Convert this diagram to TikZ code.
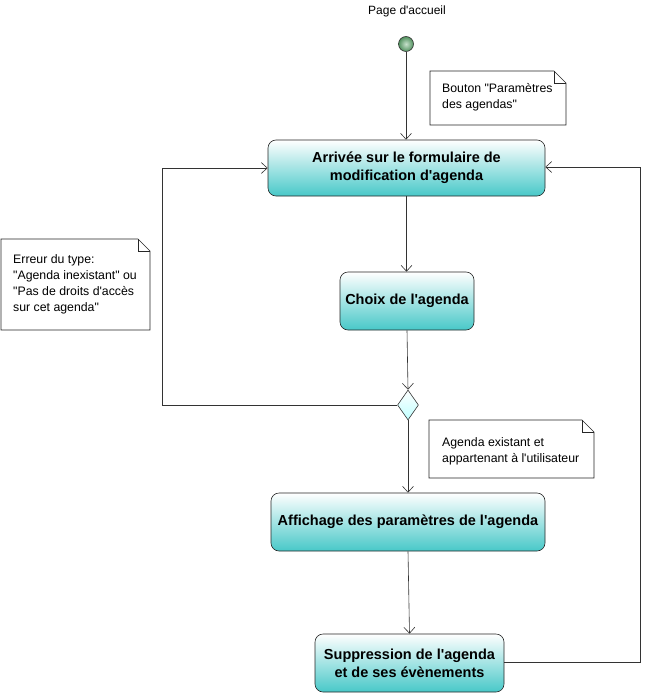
\documentclass[tikz,border=0pt]{standalone}
\usepackage{fontspec}
\setmainfont{Liberation Sans}[Ligatures=TeXOff]
\usetikzlibrary{arrows.meta,shapes.geometric,calc}
\definecolor{tealb}{HTML}{48C8C8}
\definecolor{startg}{HTML}{5FAA6E}
\newcommand{\dognote}[5]{%
  \draw[#5, fill=white] (#1,#2) -- ({#3-12},#2) -- (#3,{#2+12}) -- (#3,#4) -- (#1,#4) -- cycle;
  \draw[#5] ({#3-12},#2) -- ({#3-12},{#2+12}) -- (#3,{#2+12});
}
\begin{document}
\begin{tikzpicture}[x=1pt,y=-1pt,
  act/.style={draw=black!85, line width=0.6pt, rounded corners=8pt, top color=white, bottom color=tealb,
    font=\bfseries\fontsize{14.5}{18}\selectfont, align=center, inner sep=0pt},
  flow/.style={draw=black!80, line width=0.6pt, -{Straight Barb[length=6pt,width=11pt]}},
  notetext/.style={font=\fontsize{12.3}{16}\selectfont, align=left, inner sep=0pt, anchor=west},
  noteline/.style={draw=black!85, line width=0.6pt}]
\useasboundingbox (0,0) rectangle (652,693);

\node[font=\fontsize{12}{14}\selectfont] (title) at (407,11) {Page d'accueil};
\node[circle, draw=black!80, line width=0.6pt, inner color=startg!35!white, outer color=startg!85!black, minimum size=15pt, inner sep=0pt] (start) at (406,44) {};

\node[act, minimum width=277pt, minimum height=56pt] (a1) at (406.5,168) {Arrivée sur le formulaire de\\modification d'agenda};
\node[act, minimum width=134pt, minimum height=58pt] (a2) at (407,301) {Choix de l'agenda};
\node[diamond, draw=black!80, line width=0.6pt, minimum width=21pt, minimum height=30pt, inner sep=0pt, top color=white, bottom color=cyan!25] (dec) at (408,405) {};
\node[act, minimum width=274pt, minimum height=58pt] (a3) at (408,522) {Affichage des paramètres de l'agenda};
\node[act, minimum width=189pt, minimum height=58pt] (a4) at (409.5,663) {Suppression de l'agenda\\et de ses évènements};

\dognote{430}{71}{566}{125}{noteline}
\node[notetext] (n1) at (442,97) {Bouton "Paramètres\\des agendas"};
\dognote{1}{239}{150}{330}{noteline}
\node[notetext] (n2) at (13,284.5) {Erreur du type:\\"Agenda inexistant" ou\\"Pas de droits d'accès\\sur cet agenda"};
\dognote{429}{420}{594}{478}{noteline}
\node[notetext] (n3) at (442,451) {Agenda existant et\\appartenant à l'utilisateur};

\coordinate (l1) at (162,405);
\coordinate (l2) at (162,168);
\coordinate (r1) at (640,662);
\coordinate (r2) at (640,167);

\draw[flow] (start) -- (start|-a1.north);
\draw[flow] (a1) -- (a1.south|-a2.north);
\draw[flow] (a2.south) -- (dec.north);
\draw[flow] (dec.south) -- (dec.south|-a3.north);
\draw[flow] (a3.south) -- (a4.north);
\draw[flow] (dec.west) -- (l1) -- (l2) -- (a1.west|-l2);
\draw[flow] (a4.east|-r1) -- (r1) -- (r2) -- (a1.east|-r2);
\end{tikzpicture}
\end{document}
